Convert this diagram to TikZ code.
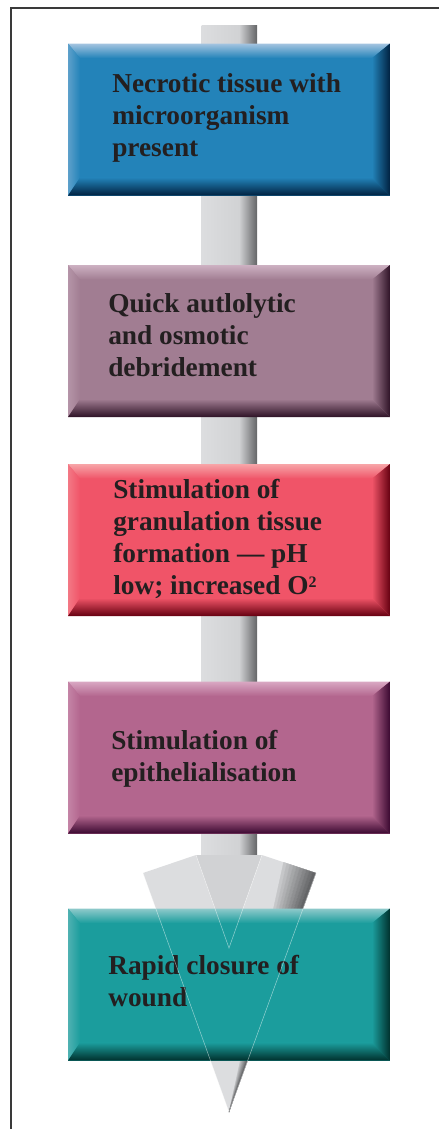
\documentclass[tikz,border=0pt]{standalone}
\usepackage{fontspec}
\setmainfont{Liberation Serif}
\usetikzlibrary{calc}

\definecolor{framec}{HTML}{3A3A3A}
\definecolor{txt}{HTML}{231F20}
\definecolor{shaftl}{HTML}{DCDDDF}
\definecolor{shaftm}{HTML}{D1D2D4}
\definecolor{shaftd}{HTML}{646567}
% box colours: main, light edge, dark edge
\definecolor{bluem}{HTML}{2383B9}
\definecolor{bluel}{HTML}{A4C4E0}
\definecolor{blued}{HTML}{002140}
\definecolor{mauvem}{HTML}{A17D92}
\definecolor{mauvel}{HTML}{CDB1C2}
\definecolor{mauved}{HTML}{2E1226}
\definecolor{redm}{HTML}{F05468}
\definecolor{redl}{HTML}{F7A5A8}
\definecolor{redd}{HTML}{650010}
\definecolor{plumm}{HTML}{B3668E}
\definecolor{pluml}{HTML}{D9A8C3}
\definecolor{plumd}{HTML}{3A0830}
\definecolor{tealm}{HTML}{1B9D9D}
\definecolor{teall}{HTML}{8FCACB}
\definecolor{teald}{HTML}{00302C}

\tikzset{
  panel/.style={minimum width=241.5pt, minimum height=114pt, inner sep=0pt, outer sep=0pt},
  paneltext/.style={anchor=west, align=left, inner sep=0pt, text=txt,
    font=\fontsize{20.5}{24}\selectfont\bfseries},
  crease/.style={white, opacity=.5, line width=.4pt}
}

% name, centre y, main, light, dark, text position, text
\newcommand\woundbox[7]{
  \node[panel, fill=#3] (#1) at (229,#2) {};
  \shade[top color=#4, bottom color=#3] (#1.north west) -- (#1.north east)
    -- ([shift={(-13.5pt,-11pt)}]#1.north east) -- ([shift={(9pt,-11pt)}]#1.north west) -- cycle;
  \shade[left color=#3!55!#4, right color=#3] (#1.north west) -- ([shift={(9pt,-11pt)}]#1.north west)
    -- ([shift={(9pt,13.5pt)}]#1.south west) -- (#1.south west) -- cycle;
  \shade[left color=#3, right color=#5] (#1.north east) -- (#1.south east)
    -- ([shift={(-13.5pt,13.5pt)}]#1.south east) -- ([shift={(-13.5pt,-11pt)}]#1.north east) -- cycle;
  \shade[top color=#3, bottom color=#5] (#1.south west) -- ([shift={(9pt,13.5pt)}]#1.south west)
    -- ([shift={(-13.5pt,13.5pt)}]#1.south east) -- (#1.south east) -- cycle;
  \node[paneltext] (#1t) at #6 {#7};
}
\newcommand\supsmall[1]{\raisebox{0.55ex}{\fontsize{12}{12}\selectfont #1}}

\begin{document}
\begin{tikzpicture}[x=0.75pt, y=-0.75pt]
  \useasboundingbox (0,0) rectangle (439,1129);
  \draw[framec, line width=1.3pt] (11,1129) -- (11,8) -- (439,8);

  % the big arrow
  \coordinate (tip) at (229,1112);
  \coordinate (wl) at (143,873);
  \coordinate (nl) at (196,855);
  \coordinate (nr) at (262,855);
  \coordinate (wr) at (316,873);
  \coordinate (vee) at (229,948);
  \coordinate (fs) at ($(nr)!0.4!(wr)$);
  \shade[left color=shaftl, right color=shaftm] (201.7,25) rectangle (239,855);
  \shade[left color=shaftm, right color=shaftd] (239,25) rectangle (257,855);
  \fill[shaftl] (wl) -- (nl) -- (vee) -- (tip) -- cycle;
  \fill[shaftm] (nl) -- (nr) -- (vee) -- cycle;
  \fill[shaftl] (vee) -- (nr) -- (wr) -- (tip) -- cycle;
  \foreach \i in {0,...,9}{
    \pgfmathtruncatemacro\p{10*(\i+1)}
    \pgfmathsetmacro\j{(\i+1)/10}
    \fill[shaftd!\p!shaftm, draw=shaftd!\p!shaftm, line width=.2pt]
      (tip) -- ($(fs)!\i/10!(wr)$) -- ($(fs)!\j!(wr)$) -- cycle;
  }

  \woundbox{b1}{119.5}{bluem}{bluel}{blued}{(112,117.5)}{Necrotic tissue with\\microorganism\\present}
  \woundbox{b2}{341}{mauvem}{mauvel}{mauved}{(108,335)}{Quick autlolytic\\and osmotic\\debridement}
  \woundbox{b3}{540}{redm}{redl}{redd}{(113,539)}{Stimulation of\\granulation tissue\\formation \textemdash{} pH\\low; increased O\supsmall{2}}
  \woundbox{b4}{757.5}{plumm}{pluml}{plumd}{(111,758.5)}{Stimulation of\\epithelialisation}
  \woundbox{b5}{984.5}{tealm}{teall}{teald}{(108,981)}{Rapid closure of\\wound}

  \draw[crease] (nl) -- (vee) -- (nr);
  \draw[crease] (wl) -- (tip) -- (wr);
\end{tikzpicture}
\end{document}
